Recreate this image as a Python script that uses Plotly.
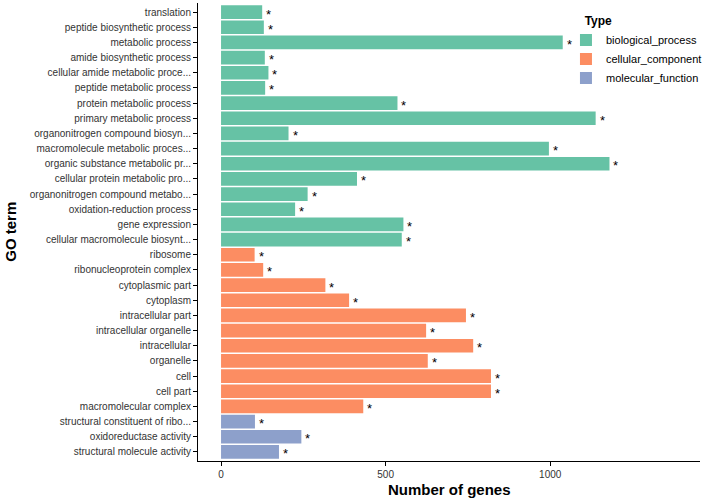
import plotly.graph_objects as go

terms = [
    "translation", "peptide biosynthetic process", "metabolic process",
    "amide biosynthetic process", "cellular amide metabolic proce...",
    "peptide metabolic process", "protein metabolic process",
    "primary metabolic process", "organonitrogen compound biosyn...",
    "macromolecule metabolic proces...", "organic substance metabolic pr...",
    "cellular protein metabolic pro...", "organonitrogen compound metabo...",
    "oxidation-reduction process", "gene expression",
    "cellular macromolecule biosynt...",
    "ribosome", "ribonucleoprotein complex", "cytoplasmic part", "cytoplasm",
    "intracellular part", "intracellular organelle", "intracellular",
    "organelle", "cell", "cell part", "macromolecular complex",
    "structural constituent of ribo...", "oxidoreductase activity",
    "structural molecule activity",
]
counts = [
    125, 130, 1038, 133, 144, 134, 536, 1138, 205, 996, 1180, 413, 263, 225, 554, 549,
    102, 128, 317, 389, 744, 623, 766, 628, 820, 820, 432,
    103, 244, 176,
]
types = (["biological_process"] * 16 + ["cellular_component"] * 11
         + ["molecular_function"] * 3)
type_order = ["biological_process", "cellular_component", "molecular_function"]
type_colors = {"biological_process": "#66C2A5", "cellular_component": "#FC8D62",
               "molecular_function": "#8DA0CB"}
marks = ["*"] * len(terms)

FONT = "Liberation Sans, Arial, Helvetica, sans-serif"

fig = go.Figure()
for t in type_order:
    idx = [i for i, v in enumerate(types) if v == t]
    fig.add_trace(go.Bar(
        x=[counts[i] for i in idx], y=[terms[i] for i in idx],
        orientation="h", name=t, width=0.9,
        marker=dict(color=type_colors[t], line=dict(width=0)),
    ))

for term, c, m in zip(terms, counts, marks):
    fig.add_annotation(x=c, y=term, text=m, showarrow=False, xanchor="left",
                       yanchor="middle", xshift=2, yshift=-2,
                       font=dict(family=FONT, size=13, color="black"))

# axis titles
fig.add_annotation(text="<b>Number of genes</b>", xref="paper", yref="paper",
                   x=0.5, y=-0.063, xanchor="center", yanchor="middle",
                   showarrow=False, font=dict(family=FONT, size=15, color="black"))
fig.add_annotation(text="<b>GO term</b>", xref="paper", yref="paper",
                   x=-0.375, y=0.5, xanchor="center", yanchor="middle",
                   textangle=-90, showarrow=False,
                   font=dict(family=FONT, size=15, color="black"))

fig.update_layout(
    width=709, height=501, barmode="overlay",
    plot_bgcolor="white", paper_bgcolor="white",
    margin=dict(l=198, r=9, t=3, b=40, autoexpand=False),
    font=dict(family=FONT, color="#333333"),
    legend=dict(
        x=0.733, y=0.985, xanchor="left", yanchor="top",
        title=dict(text="&nbsp;&nbsp;&nbsp;&nbsp;&nbsp;<b>Type</b>",
                   font=dict(size=12, color="black")),
        font=dict(size=11, color="black"), tracegroupgap=0,
        itemsizing="constant", bgcolor="rgba(0,0,0,0)",
    ),
)
fig.update_xaxes(
    range=[-70, 1455], tickvals=[0, 500, 1000], ticktext=["0", "500", "1000"],
    showgrid=False, zeroline=False, showline=True, linecolor="black", linewidth=1,
    ticks="outside", ticklen=4, tickcolor="black", automargin=False,
    tickfont=dict(size=10, color="#333333"),
)
fig.update_yaxes(
    type="category", categoryorder="array", categoryarray=terms,
    range=[len(terms) - 0.4, -0.6],
    showgrid=False, zeroline=False, showline=True, linecolor="black", linewidth=1,
    ticks="outside", ticklen=4, tickcolor="black", automargin=False,
    tickfont=dict(size=10, color="#333333"),
)

fig.write_html(
    "out.html",
    config={"displayModeBar": False},
    post_script="document.body.style.margin='0';document.body.style.overflow='hidden';",
)
